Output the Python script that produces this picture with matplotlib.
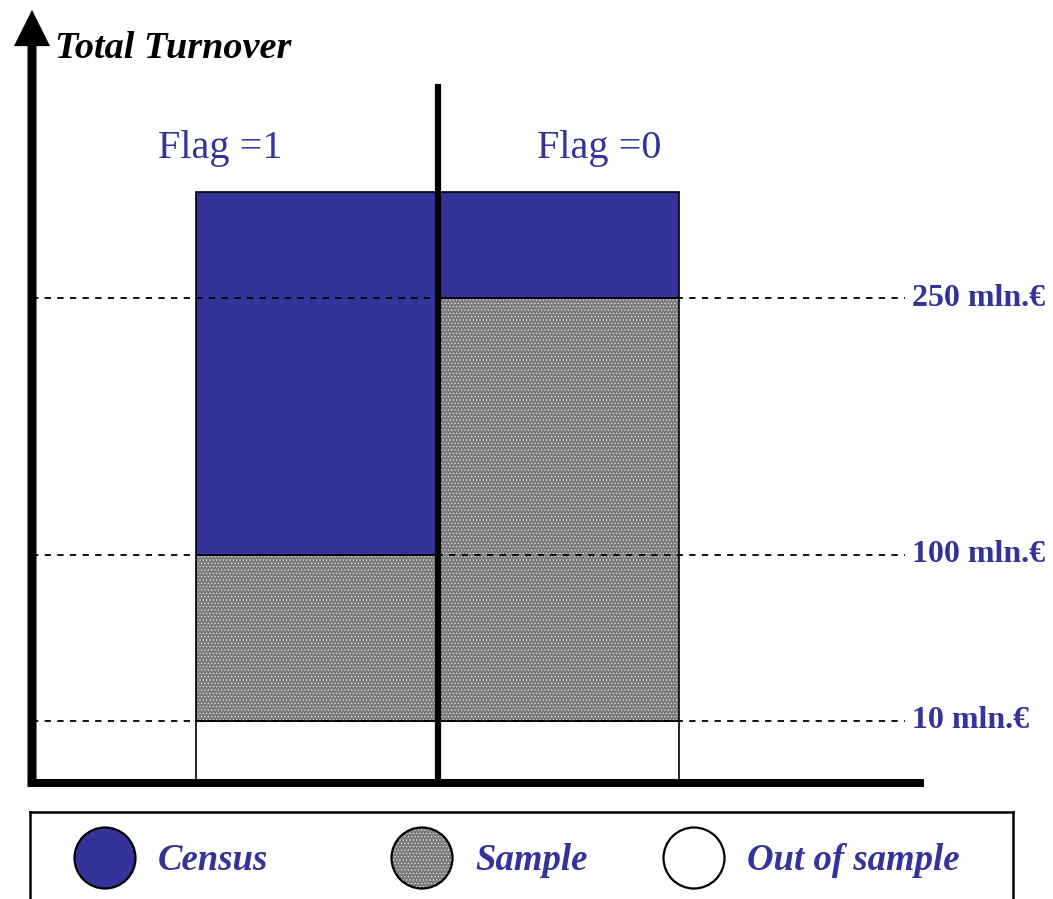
import numpy as np
import matplotlib.pyplot as plt
import matplotlib.patches as mpatches

# schematic data
flags = ['Flag =1', 'Flag =0']
out_top = np.array([10, 10])          # out of sample up to 10 mln
sample_top = np.array([100, 250])     # sample up to threshold
census_top = np.array([400, 400])     # census to top of scheme
thresholds = [10, 100, 250]
threshold_labels = ['10 mln.€', '100 mln.€', '250 mln.€']
legend_labels = ['Census', 'Sample', 'Out of sample']

BLUE = '#333399'
GRAY = '#7c7c7c'
HATCH = '.....'

# piecewise (non linear) schematic scale of the turnover axis
scale_vals = [0, 10, 100, 250, 400, 600]
scale_pos = [0, 62, 228, 485, 591, 773]

def fwd(v):
    return np.interp(v, scale_vals, scale_pos)

def inv(p):
    return np.interp(p, scale_pos, scale_vals)

plt.rcParams['hatch.linewidth'] = 0.4

fig = plt.figure(figsize=(10.53, 8.99), dpi=100)
ax = fig.add_axes([32 / 1053, 116 / 899, 888 / 1053, 773 / 899])
ax.set_yscale('function', functions=(fwd, inv))
ax.set_ylim(0, 600)
ax.set_xlim(-1.18, 2.497)

x = np.arange(len(flags))
ax.bar(x, out_top, width=1, color='white', edgecolor='k', lw=1.2, zorder=2)
ax.bar(x, sample_top - out_top, bottom=out_top, width=1, color=GRAY,
       edgecolor='#f0f0f0', hatch=HATCH, lw=0, zorder=2)
ax.bar(x, sample_top - out_top, bottom=out_top, width=1, fill=False,
       edgecolor='k', lw=1.2, zorder=2)
ax.bar(x, census_top - sample_top, bottom=sample_top, width=1, color=BLUE,
       edgecolor='k', lw=1.2, zorder=2)

# dashed threshold lines + labels
for t, lab in zip(thresholds, threshold_labels):
    ax.axhline(t, xmin=0, xmax=0.983, color='k', lw=1.3,
               ls=(0, (3.5, 3.5)), zorder=3)
    ax.text(0.991, t, lab, transform=ax.get_yaxis_transform(), ha='left',
            va='center', color=BLUE, fontsize=23, fontweight='bold',
            family='Liberation Serif', clip_on=False)

# divider between the two flags
ax.axvline(0.5, ymin=0, ymax=0.9, color='k', lw=4.5, zorder=4)

# flag titles
for xi, f in zip([-0.40, 1.17], flags):
    ax.text(xi, 448, f, ha='center', va='center', color=BLUE, fontsize=29,
            family='Liberation Serif')

# axes: thick bottom line and arrow on the left
for s in ['top', 'right', 'left']:
    ax.spines[s].set_visible(False)
ax.spines['bottom'].set_linewidth(5.8)
ax.spines['bottom'].set_zorder(5)
ax.set_xticks([])
ax.set_yticks([])
ax.set_yticks([], minor=True)
ax.annotate('', xy=(0, 1.0), xytext=(0, -0.005), xycoords='axes fraction',
            arrowprops=dict(width=6.5, headwidth=26, headlength=26,
                            facecolor='k', edgecolor='none', lw=0,
                            shrink=0),
            annotation_clip=False)
ax.text(0.026, 0.95, 'Total Turnover', transform=ax.transAxes, ha='left',
        va='center', fontsize=27.5, fontweight='bold', style='italic',
        family='Liberation Serif')

# legend box drawn by hand (bottom edge runs off the figure)
lax = fig.add_axes([30 / 1053, -10 / 899, 983 / 1053, 97 / 899])
lax.set_xlim(0, 983)
lax.set_ylim(0, 97)
lax.set_xticks([])
lax.set_yticks([])
for s in lax.spines.values():
    s.set_linewidth(1.8)

leg_faces = [BLUE, GRAY, 'white']
leg_hatches = [None, HATCH, None]
leg_x = [75, 392, 664]
for lx, fc, h, lab in zip(leg_x, leg_faces, leg_hatches, legend_labels):
    if h:
        lax.add_patch(mpatches.Circle((lx, 51), 30.5, facecolor=fc,
                                      edgecolor='#f0f0f0', hatch=h, lw=0))
        lax.add_patch(mpatches.Circle((lx, 51), 30.5, fill=False,
                                      edgecolor='k', lw=1.6))
    else:
        lax.add_patch(mpatches.Circle((lx, 51), 30.5, facecolor=fc,
                                      edgecolor='k', lw=1.6))
    lax.text(lx + 53, 49, lab, ha='left', va='center', color=BLUE,
             fontsize=26.5, fontweight='bold', style='italic',
             family='Liberation Serif')

fig.savefig('out.png', dpi=100)
